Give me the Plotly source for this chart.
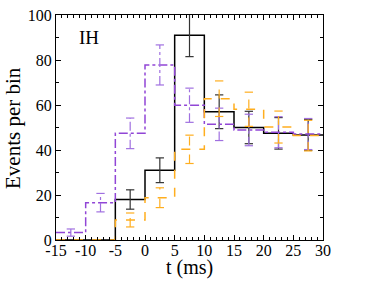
import plotly.graph_objects as go

edges = [-15, -10, -5, 0, 5, 10, 15, 20, 25, 30]
centers = [-12.5, -7.5, -2.5, 2.5, 7.5, 12.5, 17.5, 22.5, 27.5]

black = [0, 0, 18, 31, 91, 57, 50, 47.4, 46.7]
black_err = [0, 0, 4.3, 5.5, 9.5, 7.5, 7.2, 7.0, 6.9]

purple = [3.3, 16.6, 47.4, 77.8, 59.9, 51.4, 48.9, 47.9, 47.1]
purple_err = [1.6, 4.1, 6.8, 8.9, 7.6, 7.2, 7.0, 6.9, 6.9]

orange = [0, 0, 8.9, 18.8, 40.3, 62.8, 58.1, 50.2, 46.4]
orange_err = [0, 0, 3.1, 4.4, 6.3, 7.9, 7.6, 7.1, 6.8]

xticks = [-15, -10, -5, 0, 5, 10, 15, 20, 25, 30]
xticklabels = ["-15", "-10", "-5", "0", "5", "10", "15", "20", "25", "30"]
yticks = [0, 20, 40, 60, 80, 100]

BLACK = "#000000"
PURPLE = "#9146d6"
ORANGE = "#ffae1f"
SERIF = "Liberation Serif, Times New Roman, Times, DejaVu Serif, serif"

fig = go.Figure()


def add_series(vals, errs, color, dash, width, ecolor):
    fig.add_trace(go.Scatter(
        x=edges, y=vals + [vals[-1]], mode="lines", line_shape="hv",
        line=dict(color=color, dash=dash, width=width),
        showlegend=False, hoverinfo="skip"))
    xs, ys = [], []
    cap = 0.7
    for c, v, e in zip(centers, vals, errs):
        if e <= 0:
            continue
        xs += [c, c, None, c - cap, c + cap, None, c - cap, c + cap, None]
        ys += [v - e, v + e, None, v + e, v + e, None, v - e, v - e, None]
    fig.add_trace(go.Scatter(
        x=xs, y=ys, mode="lines",
        line=dict(color=ecolor, dash=dash, width=1.2),
        showlegend=False, hoverinfo="skip"))


add_series(black, black_err, BLACK, "solid", 1.5, "#333333")
add_series(purple, purple_err, PURPLE, "dashdot", 1.5, "#a070e0")
add_series(orange, orange_err, ORANGE, "dash", 1.5, ORANGE)

fig.add_annotation(x=-11.5, y=90, text="IH", showarrow=False,
                   xanchor="left", yanchor="middle",
                   font=dict(family=SERIF, size=19, color="black"))

# axis titles as annotations for precise placement
fig.add_annotation(x=0.5, xref="paper", y=-0.12, yref="paper", text="t (ms)",
                   showarrow=False, xanchor="center", yanchor="middle",
                   font=dict(family=SERIF, size=20, color="black"))
fig.add_annotation(x=-0.163, xref="paper", y=0.5, yref="paper", text="Events per bin",
                   showarrow=False, xanchor="center", yanchor="middle", textangle=-90,
                   font=dict(family=SERIF, size=21, color="black"))

axis_common = dict(
    showline=True, linecolor="black", linewidth=1, mirror="ticks",
    ticks="inside", ticklen=5, tickwidth=1, tickcolor="black",
    showgrid=False, zeroline=False, automargin=False,
    tickfont=dict(family=SERIF, size=16, color="black"),
)

fig.update_xaxes(
    range=[-15, 30], tickmode="array", tickvals=xticks, ticktext=xticklabels,
    ticklabelstandoff=-4,
    minor=dict(dtick=1, ticks="inside", ticklen=3, tickcolor="black", showgrid=False),
    **axis_common)
fig.update_yaxes(
    range=[0, 100], tickmode="array", tickvals=yticks,
    minor=dict(dtick=10, ticks="inside", ticklen=3, tickcolor="black", showgrid=False),
    **axis_common)

fig.update_layout(
    width=366, height=283,
    margin=dict(l=56, r=43, t=15, b=43),
    plot_bgcolor="white", paper_bgcolor="white",
)

fig.write_html("out.html", config={"displayModeBar": False},
               post_script="document.body.style.margin='0';document.body.style.overflow='hidden';")
